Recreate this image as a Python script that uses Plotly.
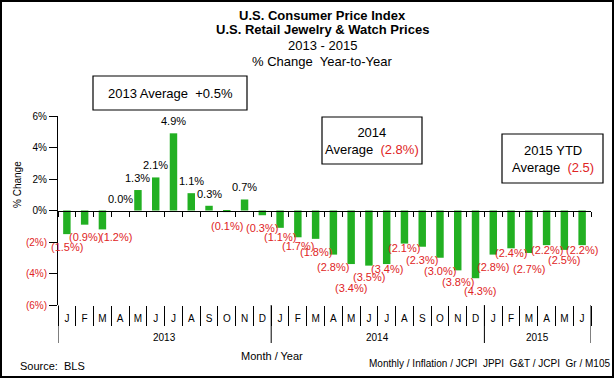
import plotly.graph_objects as go

# ---------------- data ----------------
categories = [f"{y}-{m:02d}" for y, n in ((2013, 12), (2014, 12), (2015, 6)) for m in range(1, n + 1)]
month_labels = ["J", "F", "M", "A", "M", "J", "J", "A", "S", "O", "N", "D",
                "J", "F", "M", "A", "M", "J", "J", "A", "S", "O", "N", "D",
                "J", "F", "M", "A", "M", "J"]
year_of = [2013] * 12 + [2014] * 12 + [2015] * 6
pct_change = [-1.5, -0.9, -1.2, 0.0, 1.3, 2.1, 4.9, 1.1, 0.3, -0.1, 0.7, -0.3,
              -1.1, -1.7, -1.8, -2.8, -3.4, -3.5, -3.4, -2.1, -2.3, -3.0, -3.8, -4.3,
              -2.8, -2.4, -2.7, -2.2, -2.5, -2.2]
y_ticks = [-6, -4, -2, 0, 2, 4, 6]

# label nudges (style only, px): distance below bar end for negative labels
neg_label_gap = [13, 12.5, 8, 0, 0, 0, 0, 0, 0, 13.5, 0, 12.6,
                 9, 9, 13, 12.6, 24, 11, 5, 4, 13, 13.4, 12, 13,
                 12.6, 5, 16, 5, 10.6, 5]
label_dx = [0, 0, 14, 0, 0, 0, 0, 0, 0, 0, 0, 0,
            0, 0, 0, 0, 0, 0, 0, 0, 0, 0, 0, 4.5,
            0, 0, 0, 0, 0, 0]

GREEN = "#22B022"
RED = "#E02424"
FONT = "Liberation Sans, Arial, sans-serif"

W, H = 616, 378
L, R, T, B = 58, 25, 116, 73
PW, PH = W - L - R, H - T - B


def px_x(px):
    return (px - L) / PW


def px_y(py):
    return (H - B - py) / PH


def fmt(v):
    return f"({abs(v):.1f}%)" if v < 0 else f"{v:.1f}%"


fig = go.Figure()
fig.add_trace(go.Bar(x=categories, y=pct_change, marker=dict(color=GREEN, line=dict(width=0)),
                     hoverinfo="x+y"))

# zero line axis with small ticks at month boundaries
bounds = [i - 0.5 for i in range(len(categories) + 1)]
fig.add_trace(go.Scatter(x=[bounds[0], bounds[-1]], y=[0, 0], xaxis="x2", mode="lines",
                         line=dict(width=0), hoverinfo="skip", showlegend=False))

annotations = []
# value labels
for i, (c, v) in enumerate(zip(categories, pct_change)):
    if v >= 0:
        annotations.append(dict(x=c, y=v, text=fmt(v), showarrow=False, yshift=12,
                                xanchor="center", yanchor="middle",
                                xshift=label_dx[i], font=dict(size=11, color="black", family=FONT)))
    else:
        annotations.append(dict(x=c, y=v, text=fmt(v), showarrow=False, yshift=-neg_label_gap[i],
                                xanchor="center", yanchor="middle",
                                xshift=label_dx[i], font=dict(size=11, color=RED, family=FONT)))


def ptext(px, py, text, size=11, **kw):
    d = dict(x=px_x(px), y=px_y(py), xref="paper", yref="paper", text=text, showarrow=False,
             xanchor="center", yanchor="middle", font=dict(size=size, family=FONT, color="black"))
    d.update(kw)
    annotations.append(d)


# year group labels and dividers
shapes = []
groups = []
for i, yv in enumerate(year_of):
    if not groups or groups[-1][0] != yv:
        groups.append([yv, i, i])
    else:
        groups[-1][2] = i
for yv, a, b in groups:
    annotations.append(dict(x=(a + b) / 2, xref="x", y=px_y(337), yref="paper", text=str(yv),
                            xanchor="center", yanchor="middle",
                            showarrow=False, font=dict(size=10, family=FONT, color="black")))
    shapes.append(dict(type="line", xref="x", x0=a - 0.5, x1=a - 0.5, yref="paper",
                       y0=0, y1=px_y(343), line=dict(color="black", width=1)))
shapes.append(dict(type="line", xref="x", x0=len(categories) - 0.5, x1=len(categories) - 0.5,
                   yref="paper", y0=0, y1=px_y(343), line=dict(color="black", width=1)))

# titles
title_lines = [("<b>U.S. Consumer Price Index</b>", 15), ("<b>U.S. Retail Jewelry & Watch Prices</b>", 30),
               ("2013 - 2015", 45), ("% Change  Year-to-Year", 62)]
for txt, py in title_lines:
    ptext(322, py, txt, size=13)


# boxes
def box(x0, x1, y0, y1, text):
    shapes.append(dict(type="rect", xref="paper", yref="paper", x0=px_x(x0), x1=px_x(x1),
                       y0=px_y(y1), y1=px_y(y0), line=dict(color="black", width=1.2),
                       fillcolor="white", layer="above"))
    ptext((x0 + x1) / 2, (y0 + y1) / 2, text, size=13, align="center")


box(93, 247, 76, 110, "2013 Average  +0.5%")
box(322, 422, 117, 164, f"2014<br>Average  <span style='color:{RED}'>(2.8%)</span>")
box(502, 603, 134, 183, f"2015 YTD<br>Average  <span style='color:{RED}'>(2.5)</span>")

# axis title and footers
ptext(17, 185, "% Change", size=10, textangle=-90)
ptext(272, 356, "Month / Year", size=11)
ptext(18, 366, "Source:  BLS", size=11, xanchor="left")
ptext(612, 363, "Monthly / Inflation / JCPI  JPPI  G&T / JCPI  Gr / M105", size=10, xanchor="right")

# outer frame
shapes.append(dict(type="rect", xref="paper", yref="paper", x0=px_x(1), x1=px_x(613),
                   y0=px_y(377), y1=px_y(1), line=dict(color="black", width=2)))

ytext = [f"<span style='color:{RED}'>({abs(t)}%)</span>" if t < 0 else f"{t}%" for t in y_ticks]

fig.update_layout(
    width=W, height=H, margin=dict(l=L, r=R, t=T, b=B, pad=0, autoexpand=False),
    paper_bgcolor="white", plot_bgcolor="white", showlegend=False,
    bargap=0.58, font=dict(family=FONT, size=10, color="black"),
    xaxis=dict(type="category", categoryorder="array", categoryarray=categories,
               tickmode="array", tickvals=categories, ticktext=month_labels, automargin=False,
               ticks="outside", tickson="boundaries", ticklen=20, tickcolor="black", tickwidth=1,
               showline=False, showgrid=False, zeroline=False, ticklabelstandoff=6,
               tickfont=dict(size=10, family=FONT, color="black"), range=[-0.5, len(categories) - 0.5]),
    xaxis2=dict(overlaying="x", anchor="free", position=0.5, range=[bounds[0], bounds[-1]],
                tickmode="array", tickvals=bounds, ticks="outside", ticklen=5, tickcolor="black",
                showticklabels=False, showline=True, linecolor="black", linewidth=1, automargin=False,
                showgrid=False, zeroline=False),
    yaxis=dict(range=[-6, 6], tickmode="array", tickvals=y_ticks, ticktext=ytext, automargin=False,
               ticks="outside", ticklen=8, tickcolor="black", showline=True, linecolor="black",
               linewidth=1, showgrid=False, zeroline=False, tickfont=dict(size=10, family=FONT)),
    annotations=annotations, shapes=shapes,
)

fig.write_html("out.html", config={"displayModeBar": False},
               post_script="document.body.style.margin='0';document.body.style.overflow='hidden';")
